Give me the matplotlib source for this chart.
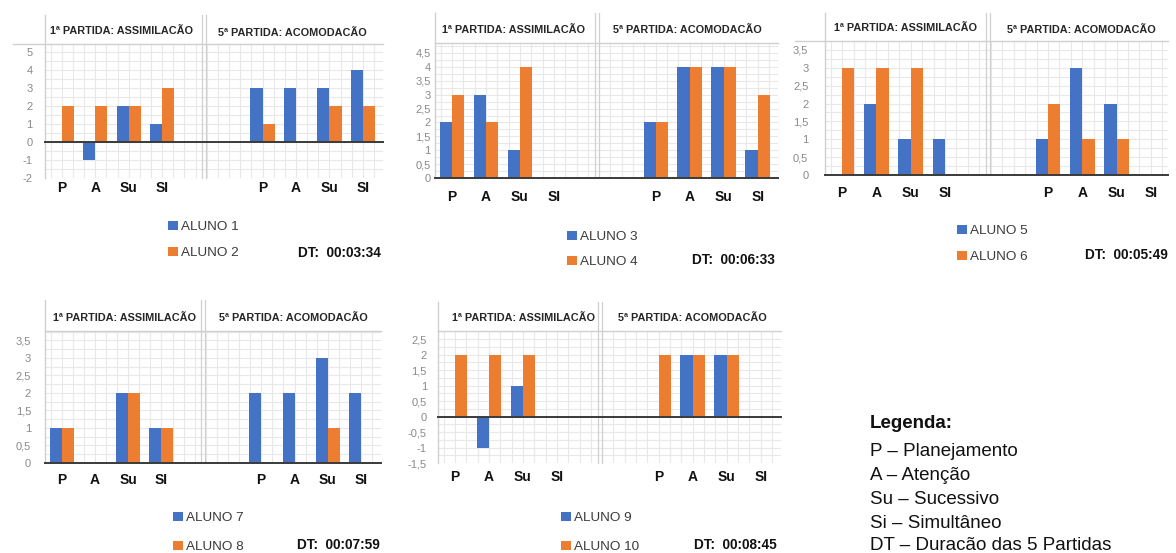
import matplotlib
matplotlib.use('Agg')
import matplotlib.pyplot as plt
import numpy as np
import matplotlib.transforms as mtransforms
from matplotlib.legend import Legend
from matplotlib.ticker import MultipleLocator, FixedLocator, FuncFormatter

plt.rcParams['font.family'] = ['Liberation Sans', 'DejaVu Sans']

W, H = 1176, 553

# ---------------- data ----------------
categories = ['P', 'A', 'Su', 'SI']
title_first = '1ª PARTIDA: ASSIMILACÃO'
title_fifth = '5ª PARTIDA: ACOMODACÃO'

# values per category (P, A, Su, SI): 1st game then 5th game
aluno1_g1 = [0, -1, 2, 1];  aluno1_g5 = [3, 3, 3, 4]
aluno2_g1 = [2, 2, 2, 3];   aluno2_g5 = [1, 0, 2, 2]
aluno3_g1 = [2, 3, 1, 0];   aluno3_g5 = [2, 4, 4, 1]
aluno4_g1 = [3, 2, 4, 0];   aluno4_g5 = [2, 4, 4, 3]
aluno5_g1 = [0, 2, 1, 1];   aluno5_g5 = [1, 3, 2, 0]
aluno6_g1 = [3, 3, 3, 0];   aluno6_g5 = [2, 1, 1, 0]
aluno7_g1 = [1, 0, 2, 1];   aluno7_g5 = [2, 2, 3, 2]
aluno8_g1 = [1, 0, 2, 1];   aluno8_g5 = [0, 0, 1, 0]
aluno9_g1 = [0, -1, 1, 0];  aluno9_g5 = [0, 2, 2, 0]
aluno10_g1 = [2, 2, 2, 0];  aluno10_g5 = [2, 2, 2, 0]

student_labels = ['ALUNO 1', 'ALUNO 2', 'ALUNO 3', 'ALUNO 4', 'ALUNO 5',
                  'ALUNO 6', 'ALUNO 7', 'ALUNO 8', 'ALUNO 9', 'ALUNO 10']
durations = ['00:03:34', '00:06:33', '00:05:49', '00:07:59', '00:08:45']

y_ticks_1 = [-2, -1, 0, 1, 2, 3, 4, 5]
y_ticks_2 = [0, 0.5, 1, 1.5, 2, 2.5, 3, 3.5, 4, 4.5]
y_ticks_3 = [0, 0.5, 1, 1.5, 2, 2.5, 3, 3.5]
y_ticks_4 = [0, 0.5, 1, 1.5, 2, 2.5, 3, 3.5]
y_ticks_5 = [-1.5, -1, -0.5, 0, 0.5, 1, 1.5, 2, 2.5]

legend_title = 'Legenda:'
legend_lines = ['P – Planejamento', 'A – Atenção', 'Su – Sucessivo',
                'Si – Simultâneo', 'DT – Duracão das 5 Partidas']

BLUE = '#4472C4'
ORANGE = '#ED7D31'
GRID = '#e8e8e8'
FRAME = '#d0d0d0'

# ---------------- layout (pixels) ----------------
panels = [
    dict(blue=(aluno1_g1, aluno1_g5), orange=(aluno2_g1, aluno2_g5), names=(0, 1), dt=0,
         l=45, r=383, t=44, b=178, htop=15, ylim=(-2, 5.44), yt=y_ticks_1, ystep=1, xmax=9.6,
         hext=32, ypad=9, xoff=10, t1=(121, 31), t2=(292, 33),
         leg=(168, 227, 253), dtpos=(381, 253)),
    dict(blue=(aluno3_g1, aluno3_g5), orange=(aluno4_g1, aluno4_g5), names=(2, 3), dt=1,
         l=435, r=778, t=43, b=178, htop=13, ylim=(0, 4.86), yt=y_ticks_2, ystep=0.5, xmax=9.6,
         hext=0, ypad=3, xoff=19, t1=(513, 30), t2=(687, 30),
         leg=(567, 237, 262), dtpos=(775, 260)),
    dict(blue=(aluno5_g1, aluno5_g5), orange=(aluno6_g1, aluno6_g5), names=(4, 5), dt=2,
         l=825, r=1168, t=41, b=175, htop=13, ylim=(0, 3.75), yt=y_ticks_3, ystep=0.5, xmax=9.5,
         hext=30, ypad=12, xoff=18, t1=(906, 28), t2=(1081, 30),
         leg=(957, 231, 257), dtpos=(1168, 255)),
    dict(blue=(aluno7_g1, aluno7_g5), orange=(aluno8_g1, aluno8_g5), names=(6, 7), dt=3,
         l=45, r=381, t=331, b=463, htop=300, ylim=(0, 3.77), yt=y_ticks_4, ystep=0.5, xmax=9.6,
         hext=0, ypad=10, xoff=17, t1=(125, 318), t2=(293, 318),
         leg=(173, 518, 547), dtpos=(380, 545)),
    dict(blue=(aluno9_g1, aluno9_g5), orange=(aluno10_g1, aluno10_g5), names=(8, 9), dt=4,
         l=438, r=781, t=331, b=463, htop=302, ylim=(-1.5, 2.76), yt=y_ticks_5, ystep=0.5, xmax=9.6,
         hext=0, ypad=8, xoff=14, t1=(523, 318), t2=(692, 318),
         leg=(561, 518, 547), dtpos=(777, 545)),
]


def fpos(x, y):
    return (x / W, 1 - y / H)


def comma(v, pos=None):
    return ('%g' % v).replace('.', ',')


fig = plt.figure(figsize=(W / 100, H / 100), dpi=100)
fig.patch.set_facecolor('white')

x_pos = np.array([0, 1, 2, 3, 6, 7, 8, 9])
bw = 0.36
divider_x = 4.26

for p in panels:
    l, r, t, b = p['l'], p['r'], p['t'], p['b']
    ax = fig.add_axes([l / W, 1 - b / H, (r - l) / W, (b - t) / H])
    ax.set_xlim(-0.5, p['xmax'])
    ax.set_ylim(*p['ylim'])
    for s in ax.spines.values():
        s.set_visible(False)

    blue_vals = list(p['blue'][0]) + list(p['blue'][1])
    orange_vals = list(p['orange'][0]) + list(p['orange'][1])
    bc_b = ax.bar(x_pos - bw / 2, blue_vals, bw, color=BLUE, zorder=2)
    bc_o = ax.bar(x_pos + bw / 2, orange_vals, bw, color=ORANGE, zorder=2)

    # grid
    ax.xaxis.set_major_locator(FixedLocator([]))
    ax.xaxis.set_minor_locator(MultipleLocator(1 / 3))
    ax.yaxis.set_major_locator(FixedLocator(p['yt']))
    ax.yaxis.set_minor_locator(MultipleLocator(p['ystep'] / 2))
    ax.yaxis.set_major_formatter(FuncFormatter(comma))
    ax.grid(which='both', axis='both', color=GRID, lw=0.8, zorder=0)
    ax.tick_params(which='both', length=0)
    ax.tick_params(axis='y', labelsize=8, labelcolor='#8a8a8a', pad=p['ypad'])
    ax.set_axisbelow(True)

    # zero line
    ax.axhline(0, color='#3a3a3a', lw=1.4, zorder=3, clip_on=False)

    # frame lines (header + left + divider)
    bt = mtransforms.blended_transform_factory(ax.transData, ax.transAxes)
    top_frac = (b - p['htop']) / (b - t)
    ax.plot([-0.5, -0.5], [0, top_frac], transform=bt, color=FRAME, lw=1.0, clip_on=False, zorder=1)
    for dx in (divider_x - 0.06, divider_x + 0.06):
        ax.plot([dx, dx], [0, top_frac], transform=bt, color=FRAME, lw=0.9, clip_on=False, zorder=1)
    slot_px = (r - l) / (p['xmax'] + 0.5)
    x_left = -0.5 - p['hext'] / slot_px
    ax.plot([x_left, p['xmax']], [1, 1], transform=bt, color=FRAME, lw=1.0, clip_on=False, zorder=1)

    # category labels
    for xi, lab in zip(x_pos, categories + categories):
        ax.annotate(lab, xy=(xi, 0), xycoords=bt, xytext=(0, -p['xoff'] * 0.72),
                    textcoords='offset points', ha='center', va='center',
                    fontsize=10, fontweight='bold', color='#111111', annotation_clip=False)

    # titles
    fig.text(*fpos(*p['t1']), title_first, ha='center', va='center', fontsize=7.8,
             fontweight='bold', color='#262626')
    fig.text(*fpos(*p['t2']), title_fifth, ha='center', va='center', fontsize=7.8,
             fontweight='bold', color='#262626')

    # legends
    lx, ly1, ly2 = p['leg']
    for handle, name_idx, ly in ((bc_b, p['names'][0], ly1), (bc_o, p['names'][1], ly2)):
        lg = Legend(ax, [handle], [student_labels[name_idx]], loc='center left',
                    bbox_to_anchor=fpos(lx, ly), bbox_transform=fig.transFigure,
                    frameon=False, borderpad=0, borderaxespad=0, handlelength=0.72,
                    handleheight=0.72, handletextpad=0.28, fontsize=9.7)
        for txt in lg.get_texts():
            txt.set_color('#3a3a3a')
        ax.add_artist(lg)

    fig.text(*fpos(*p['dtpos']), 'DT:  ' + durations[p['dt']], ha='right', va='center',
             fontsize=9.8, fontweight='bold', color='#111111')

# right-hand key
fig.text(*fpos(870, 423), legend_title, ha='left', va='center', fontsize=13.5,
         fontweight='bold', color='#111111')
for yy, line in zip([452, 476, 499, 523, 546], legend_lines):
    fig.text(*fpos(870, yy), line, ha='left', va='center', fontsize=13.5, color='#111111')

fig.savefig('out.png', dpi=100, facecolor='white')
